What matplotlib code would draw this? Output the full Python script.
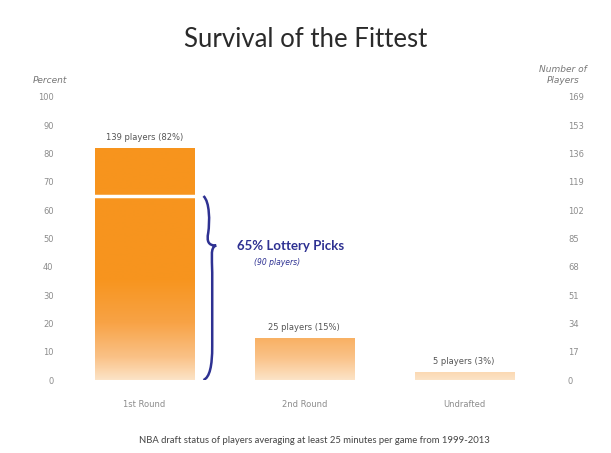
import matplotlib
matplotlib.use('Agg')
import matplotlib.pyplot as plt
import numpy as np
from matplotlib.colors import LinearSegmentedColormap
from matplotlib.path import Path
from matplotlib.patches import PathPatch
from matplotlib import font_manager

categories = ['1st Round', '2nd Round', 'Undrafted']
players = [139, 25, 5]
percents = [82, 15, 3]
lottery_pct = 65
lottery_players = 90
pct_ticks = [0, 10, 20, 30, 40, 50, 60, 70, 80, 90, 100]
player_ticks = ['0', '17', '34', '51', '68', '85', '102', '119', '136', '153', '169']

navy = '#2E3192'
grey = '#8c8c8c'

names = {f.name for f in font_manager.fontManager.ttflist}
title_font = 'Liberation Sans Narrow' if 'Liberation Sans Narrow' in names else 'Lato'

fig = plt.figure(figsize=(6.11, 4.53), dpi=100)
ax = fig.add_axes([0.115, 0.161, 0.769, 0.625])
x = np.arange(len(categories))
width = 0.62

# first round split into lottery and non-lottery part
bars_low = ax.bar(x[:1], [lottery_pct], width, color='none', lw=0)
bars_top = ax.bar(x[:1], [percents[0] - lottery_pct], width, bottom=[lottery_pct], color='none', lw=0)
bars_rest = ax.bar(x[1:], percents[1:], width, color='none', lw=0)

xlim = (-0.4625, 2.475)
cmap = LinearSegmentedColormap.from_list(
    'org', [(0, '#FCE3C6'), (0.08, '#FAC186'), (0.2, '#F8A346'), (0.35, '#F7951F'), (1, '#F7941D')])
grad = np.linspace(0, 1, 256).reshape(-1, 1)
for p in list(bars_low) + list(bars_top) + list(bars_rest):
    im = ax.imshow(grad, extent=(xlim[0], xlim[1], 0, 100), origin='lower', cmap=cmap,
                   aspect='auto', vmin=0, vmax=1, zorder=1)
    im.set_clip_path(p)
# white gap between lottery and rest of first round
ax.plot([x[0] - width / 2, x[0] + width / 2], [lottery_pct, lottery_pct], color='white', lw=2.5, zorder=3)
ax.set_xlim(*xlim)
ax.set_ylim(0, 100)

for xi, n, pc in zip(x, players, percents):
    ax.text(xi, pc + 2, f'{n} players ({pc}%)', ha='center', va='bottom', fontsize=6, color='#555555')

# brace for lottery picks
bx = x[0] + width / 2
verts = [(bx + 0.06, lottery_pct), (bx + 0.10, lottery_pct - 2), (bx + 0.10, lottery_pct - 9), (bx + 0.09, lottery_pct - 13),
         (bx + 0.08, lottery_pct - 16), (bx + 0.09, lottery_pct - 17.5), (bx + 0.14, lottery_pct - 17.5),
         (bx + 0.10, lottery_pct - 18), (bx + 0.115, lottery_pct - 22), (bx + 0.115, lottery_pct - 27),
         (bx + 0.115, 12),
         (bx + 0.115, 5), (bx + 0.10, 1), (bx + 0.06, 0)]
codes = [Path.MOVETO, Path.CURVE4, Path.CURVE4, Path.CURVE4,
         Path.CURVE4, Path.CURVE4, Path.CURVE4,
         Path.CURVE4, Path.CURVE4, Path.CURVE4,
         Path.LINETO,
         Path.CURVE4, Path.CURVE4, Path.CURVE4]
ax.add_patch(PathPatch(Path(verts, codes), facecolor='none', edgecolor=navy, lw=1.8, zorder=4))
ax.text(bx + 0.27, lottery_pct - 17.5, f'{lottery_pct}% Lottery Picks', color=navy, fontsize=9.5,
        fontweight='bold', va='center', ha='left', family='Lato')
ax.text(bx + 0.52, lottery_pct - 23.5, f'({lottery_players} players)', color=navy, fontsize=5.5,
        style='italic', va='center', ha='center')

for s in ax.spines.values():
    s.set_visible(False)
ax.set_yticks(pct_ticks)
ax.set_yticklabels([str(t) for t in pct_ticks])
ax.tick_params(axis='y', length=0, labelsize=6, labelcolor=grey, pad=12)
ax.set_xticks(x)
ax.set_xticklabels(categories)
ax.tick_params(axis='x', length=0, labelsize=6, labelcolor=grey, pad=14)

ax2 = ax.twinx()
ax2.set_ylim(0, 100)
ax2.set_yticks(pct_ticks)
ax2.set_yticklabels(player_ticks)
ax2.tick_params(axis='y', length=0, labelsize=6, labelcolor=grey, pad=20)
for s in ax2.spines.values():
    s.set_visible(False)

fig.text(0.082, 0.817, 'Percent', fontsize=6.5, style='italic', color='#777777', ha='center')
fig.text(0.921, 0.817, 'Number of\nPlayers', fontsize=6.5, style='italic', color='#777777', ha='center',
         linespacing=1.3)
fig.text(0.5, 0.912, 'Survival of the Fittest', fontsize=21 if title_font != 'Lato' else 18.5,
         ha='center', va='center', color='#2a2a2a', family=title_font)
fig.text(0.515, 0.028, 'NBA draft status of players averaging at least 25 minutes per game from 1999-2013',
         fontsize=6.8, ha='center', va='center', color='#444444', family='Lato')

fig.savefig('out.png', dpi=100, facecolor='white')
